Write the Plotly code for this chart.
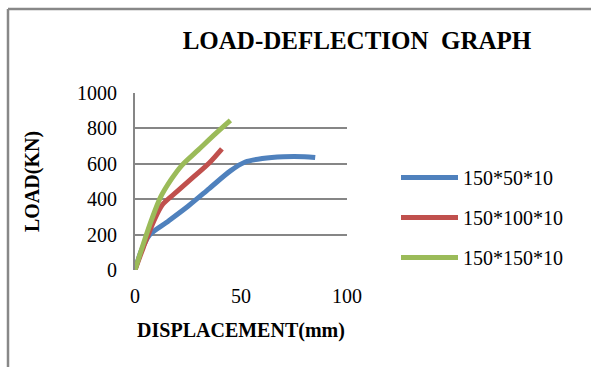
import plotly.graph_objects as go

# Load-deflection readings (displacement in mm, load in kN)
disp_50 = [0, 3, 7, 15, 25, 35, 45, 52, 60, 70, 80, 85]
load_50 = [0, 110, 200, 270, 360, 460, 560, 610, 630, 640, 640, 635]

disp_100 = [0, 4, 9, 13, 20, 28, 35, 41]
load_100 = [0, 130, 280, 370, 445, 530, 605, 685]

disp_150 = [0, 4, 8, 12, 17, 22, 30, 38, 45]
load_150 = [0, 150, 290, 410, 510, 590, 680, 770, 845]

names = ["150*50*10", "150*100*10", "150*150*10"]
colors = ["#4F81BD", "#C0504D", "#9BBB59"]

x_ticks = [0, 50, 100]
y_ticks = [0, 200, 400, 600, 800, 1000]

serif = "Liberation Serif, Times New Roman, serif"

fig = go.Figure()
for i, (xs, ys) in enumerate([(disp_50, load_50), (disp_100, load_100), (disp_150, load_150)]):
    fig.add_trace(go.Scatter(
        x=xs, y=ys, mode="lines", name=names[i], legendgroup=names[i],
        line=dict(color=colors[i], width=5, shape="spline", smoothing=0.8),
    ))

W, H = 591, 367
L, R, T, B = 135, 244, 93, 97
pw, ph = W - L - R, H - T - B

def px_x(p):
    return (p - L) / pw

def px_y(p):
    return (H - B - p) / ph

tick_font = dict(family=serif, size=20, color="black")
axis_title_font = dict(family=serif, size=20, color="black")

fig.update_layout(
    width=W, height=H,
    margin=dict(l=L, r=R, t=T, b=B, autoexpand=False),
    paper_bgcolor="white", plot_bgcolor="white",
    font=dict(family=serif, size=20, color="black"),
    title=dict(text="<b>LOAD-DEFLECTION  GRAPH</b>", xref="container", x=357 / W,
               xanchor="center", yref="container", y=1 - 40 / H, yanchor="middle",
               font=dict(family=serif, size=25, color="black")),
    xaxis=dict(range=[0, 100], tickvals=x_ticks, showgrid=False, zeroline=False,
               showline=False, ticks="outside", ticklen=8, tickcolor="rgba(0,0,0,0)",
               tickfont=tick_font, automargin=False,
               title=dict(text="<b>DISPLACEMENT(mm)</b>", font=axis_title_font, standoff=16)),
    yaxis=dict(range=[0, 1000], tickvals=y_ticks, showgrid=True, gridcolor="#868686",
               gridwidth=2, zeroline=False, showline=True, linecolor="#868686",
               linewidth=2, ticks="outside", ticklen=12, tickcolor="rgba(0,0,0,0)",
               tickfont=tick_font, automargin=False,
               title=dict(text="<b>LOAD(KN)</b>", font=axis_title_font, standoff=32)),
    legend=dict(xref="container", x=396 / W, xanchor="left",
                yref="container", y=1 - 158 / H, yanchor="top",
                font=dict(family=serif, size=20, color="black"), itemwidth=57,
                tracegroupgap=11, bgcolor="rgba(0,0,0,0)"),
    showlegend=True,
    shapes=[
        dict(type="line", xref="paper", yref="paper", x0=px_x(8), x1=px_x(600),
             y0=px_y(9), y1=px_y(9), line=dict(color="#888888", width=2.5)),
        dict(type="line", xref="paper", yref="paper", x0=px_x(8), x1=px_x(8),
             y0=px_y(9), y1=px_y(380), line=dict(color="#888888", width=2.5)),
    ],
)

fig.write_html("out.html")
